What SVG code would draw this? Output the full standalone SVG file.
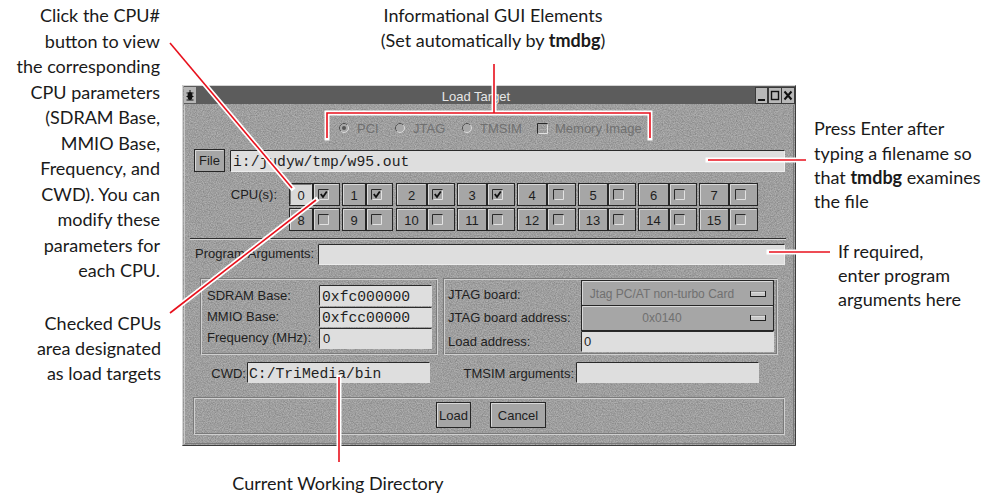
<svg xmlns="http://www.w3.org/2000/svg" width="1004" height="495" viewBox="0 0 1004 495">
<style>
.ann{font-family:Lato,"Liberation Sans",sans-serif;font-size:18px;fill:#1a1a1a}
.b{font-weight:bold}
.ui{font-family:"Liberation Sans",Arial,sans-serif;font-size:13px;fill:#1e1e1e}
.dim{fill:#707070}
.mono{font-family:"Liberation Mono","Courier New",monospace;font-size:14.7px;fill:#1e1e1e}
.cell{fill:#a6a6a6;stroke:#262626}
.hl{fill:none;stroke:#d9d9d9}
.sh{fill:none;stroke:#2a2a2a}
.lt{fill:none;stroke:#ececec}
.field{fill:#dedede}
.etchD{fill:none;stroke:#7a7a7a}
.etchL{fill:none;stroke:#d0d0d0}
.halo{fill:none;stroke:#fff;stroke-width:5;stroke-linecap:square}
.red{fill:none;stroke:#e8101c;stroke-width:1.6}
.c{text-anchor:middle}
.e{text-anchor:end}
</style>
<defs>
<filter id="grain" x="0" y="0" width="1" height="1">
<feTurbulence type="fractalNoise" baseFrequency="0.85" numOctaves="2" seed="7"/>
<feColorMatrix type="matrix" values="0 0 0 0 0  0 0 0 0 0  0 0 0 0 0  0.4 0 0 0 -0.1"/>
</filter>
<g id="box"><path d="M0.5,10.5 V0.5 H10.5" stroke="#2a2a2a" fill="none"/><path d="M1.5,10.5 H10.5 V1.5" stroke="#e2e2e2" fill="none"/></g>
<g id="boxc"><use href="#box"/><path d="M2.8,5 L5,8 L8.8,2.6" stroke="#111" stroke-width="1.8" fill="none"/></g>
</defs>

<g id="window">
<rect x="182" y="85" width="614" height="361" fill="#b0b0b0"/>
<rect x="182" y="85" width="614" height="361" fill="#000" filter="url(#grain)"/>
<path d="M182.5,445.5 V85.5 H795.5" stroke="#d4d4d4" fill="none"/>
<path d="M182.5,445.5 H795.5 V85.5" stroke="#3c3c3c" fill="none"/>
<path d="M184.5,444 V105" stroke="#c8c8c8" fill="none"/>
<path d="M793.5,105 V443.5 H185" stroke="#7a7a7a" fill="none"/>
</g>

<g id="title-bar">
<rect x="184" y="86" width="611" height="18" fill="#5c5c5c"/>
<rect x="184" y="87" width="12" height="16" fill="#b6b6b6"/>
<ellipse cx="190" cy="96" rx="2.5" ry="4" fill="#111"/>
<path d="M186.5,93 H193.5 M186.5,96.5 H193.5 M186.5,100 H193.5 M190,90 V92" stroke="#111" stroke-width="1"/>
<text x="476" y="101" class="ui c" style="fill:#e6e6e6">Load Target</text>
<rect x="755.5" y="87.5" width="12" height="16" fill="#b8b8b8" stroke="#3a3a3a"/>
<path d="M758,100 H765" stroke="#111" stroke-width="2"/>
<rect x="768.5" y="87.5" width="13" height="16" fill="#b8b8b8" stroke="#3a3a3a"/>
<rect x="771.5" y="91.5" width="7" height="8" fill="none" stroke="#111" stroke-width="1.4"/>
<rect x="781.5" y="87.5" width="13" height="16" fill="#b8b8b8" stroke="#3a3a3a"/>
<path d="M784.5,91.5 L791.5,99.5 M791.5,91.5 L784.5,99.5" stroke="#111" stroke-width="2"/>
</g>

<g id="radio-row">
<circle cx="344" cy="128" r="4.5" fill="#a8a8a8" stroke="#dcdcdc"/>
<path d="M340.8,131.2 A4.5,4.5 0 0 1 347.2,124.8" stroke="#4a4a4a" fill="none"/>
<circle cx="344" cy="128" r="2" fill="#555"/>
<text x="357" y="133" class="ui dim">PCI</text>
<circle cx="400" cy="128" r="4.5" fill="#a8a8a8" stroke="#dcdcdc"/>
<path d="M396.8,131.2 A4.5,4.5 0 0 1 403.2,124.8" stroke="#4a4a4a" fill="none"/>
<text x="413" y="133" class="ui dim">JTAG</text>
<circle cx="467" cy="128" r="4.5" fill="#a8a8a8" stroke="#dcdcdc"/>
<path d="M463.8,131.2 A4.5,4.5 0 0 1 470.2,124.8" stroke="#4a4a4a" fill="none"/>
<text x="480" y="133" class="ui dim">TMSIM</text>
<use href="#box" x="537" y="123"/>
<text x="555" y="133" class="ui dim">Memory Image</text>
</g>

<g id="file-row">
<rect x="194.5" y="149.5" width="30" height="22" class="cell"/>
<path d="M195.5,170.5 V150.5 H223.5" class="hl"/>
<text x="209.5" y="165" class="ui c">File</text>
<rect x="230" y="150" width="555" height="22" class="field"/>
<path d="M230.5,171.5 V150.5 H784.5" class="sh"/>
<path d="M231,171.5 H784.5 V151" class="lt"/>
<text x="233" y="166" class="mono">i:/judyw/tmp/w95.out</text>
</g>

<g id="cpu-grid">
<text x="277" y="199" class="ui e">CPU(s):</text>
<rect x="289.5" y="183.5" width="23" height="22" fill="#d9d9d9" stroke="#262626"/>
<path d="M290.5,204.5 V184.5 H311.5" stroke="#7a7a7a" fill="none"/>
<text x="301" y="200" class="ui c">0</text>
<rect x="313.5" y="183.5" width="26" height="22" class="cell"/><path d="M314.5,204.5 V184.5 H338.5" class="hl"/><use href="#boxc" x="318" y="189"/>
<rect x="342.5" y="183.5" width="23" height="22" class="cell"/><path d="M343.5,204.5 V184.5 H364.5" class="hl"/><text x="354" y="200" class="ui c">1</text>
<rect x="366.5" y="183.5" width="26" height="22" class="cell"/><path d="M367.5,204.5 V184.5 H391.5" class="hl"/><use href="#boxc" x="371" y="189"/>
<rect x="396.5" y="183.5" width="30" height="22" class="cell"/><path d="M397.5,204.5 V184.5 H425.5" class="hl"/><text x="411.5" y="200" class="ui c">2</text>
<rect x="427.5" y="183.5" width="27" height="22" class="cell"/><path d="M428.5,204.5 V184.5 H453.5" class="hl"/><use href="#boxc" x="432" y="189"/>
<rect x="457.5" y="183.5" width="29" height="22" class="cell"/><path d="M458.5,204.5 V184.5 H485.5" class="hl"/><text x="472" y="200" class="ui c">3</text>
<rect x="487.5" y="183.5" width="27" height="22" class="cell"/><path d="M488.5,204.5 V184.5 H513.5" class="hl"/><use href="#boxc" x="492" y="189"/>
<rect x="517.5" y="183.5" width="29" height="22" class="cell"/><path d="M518.5,204.5 V184.5 H545.5" class="hl"/><text x="532" y="200" class="ui c">4</text>
<rect x="547.5" y="183.5" width="28" height="22" class="cell"/><path d="M548.5,204.5 V184.5 H574.5" class="hl"/><use href="#box" x="553" y="189"/>
<rect x="578.5" y="183.5" width="29" height="22" class="cell"/><path d="M579.5,204.5 V184.5 H606.5" class="hl"/><text x="593" y="200" class="ui c">5</text>
<rect x="608.5" y="183.5" width="27" height="22" class="cell"/><path d="M609.5,204.5 V184.5 H634.5" class="hl"/><use href="#box" x="613" y="189"/>
<rect x="638.5" y="183.5" width="30" height="22" class="cell"/><path d="M639.5,204.5 V184.5 H667.5" class="hl"/><text x="653.5" y="200" class="ui c">6</text>
<rect x="669.5" y="183.5" width="27" height="22" class="cell"/><path d="M670.5,204.5 V184.5 H695.5" class="hl"/><use href="#box" x="674" y="189"/>
<rect x="699.5" y="183.5" width="29" height="22" class="cell"/><path d="M700.5,204.5 V184.5 H727.5" class="hl"/><text x="714" y="200" class="ui c">7</text>
<rect x="729.5" y="183.5" width="28" height="22" class="cell"/><path d="M730.5,204.5 V184.5 H756.5" class="hl"/><use href="#box" x="735" y="189"/>
<rect x="289.5" y="208.5" width="23" height="22" class="cell"/><path d="M290.5,229.5 V209.5 H311.5" class="hl"/><text x="301" y="225" class="ui c">8</text>
<rect x="313.5" y="208.5" width="26" height="22" class="cell"/><path d="M314.5,229.5 V209.5 H338.5" class="hl"/><use href="#box" x="318" y="214"/>
<rect x="342.5" y="208.5" width="23" height="22" class="cell"/><path d="M343.5,229.5 V209.5 H364.5" class="hl"/><text x="354" y="225" class="ui c">9</text>
<rect x="366.5" y="208.5" width="26" height="22" class="cell"/><path d="M367.5,229.5 V209.5 H391.5" class="hl"/><use href="#box" x="371" y="214"/>
<rect x="396.5" y="208.5" width="30" height="22" class="cell"/><path d="M397.5,229.5 V209.5 H425.5" class="hl"/><text x="411.5" y="225" class="ui c">10</text>
<rect x="427.5" y="208.5" width="27" height="22" class="cell"/><path d="M428.5,229.5 V209.5 H453.5" class="hl"/><use href="#box" x="432" y="214"/>
<rect x="457.5" y="208.5" width="29" height="22" class="cell"/><path d="M458.5,229.5 V209.5 H485.5" class="hl"/><text x="472" y="225" class="ui c">11</text>
<rect x="487.5" y="208.5" width="27" height="22" class="cell"/><path d="M488.5,229.5 V209.5 H513.5" class="hl"/><use href="#box" x="492" y="214"/>
<rect x="517.5" y="208.5" width="29" height="22" class="cell"/><path d="M518.5,229.5 V209.5 H545.5" class="hl"/><text x="532" y="225" class="ui c">12</text>
<rect x="547.5" y="208.5" width="28" height="22" class="cell"/><path d="M548.5,229.5 V209.5 H574.5" class="hl"/><use href="#box" x="553" y="214"/>
<rect x="578.5" y="208.5" width="29" height="22" class="cell"/><path d="M579.5,229.5 V209.5 H606.5" class="hl"/><text x="593" y="225" class="ui c">13</text>
<rect x="608.5" y="208.5" width="27" height="22" class="cell"/><path d="M609.5,229.5 V209.5 H634.5" class="hl"/><use href="#box" x="613" y="214"/>
<rect x="638.5" y="208.5" width="30" height="22" class="cell"/><path d="M639.5,229.5 V209.5 H667.5" class="hl"/><text x="653.5" y="225" class="ui c">14</text>
<rect x="669.5" y="208.5" width="27" height="22" class="cell"/><path d="M670.5,229.5 V209.5 H695.5" class="hl"/><use href="#box" x="674" y="214"/>
<rect x="699.5" y="208.5" width="29" height="22" class="cell"/><path d="M700.5,229.5 V209.5 H727.5" class="hl"/><text x="714" y="225" class="ui c">15</text>
<rect x="729.5" y="208.5" width="28" height="22" class="cell"/><path d="M730.5,229.5 V209.5 H756.5" class="hl"/><use href="#box" x="735" y="214"/>
</g>

<g id="separator">
<path d="M190,238.5 H786" stroke="#2e2e2e"/>
<path d="M190,239.5 H786" stroke="#d4d4d4"/>
</g>

<g id="program-args">
<text x="195" y="258" class="ui">Program Arguments:</text>
<rect x="318" y="244" width="467" height="21" class="field"/>
<path d="M318.5,264.5 V244.5 H784.5" class="sh"/>
<path d="M319,264.5 H784.5 V245" class="lt"/>
</g>

<g id="cpu-params">
<rect x="200.5" y="278.5" width="236" height="75" class="etchD"/>
<rect x="201.5" y="279.5" width="236" height="75" class="etchL"/>
<text x="207" y="300" class="ui">SDRAM Base:</text>
<text x="207" y="321" class="ui">MMIO Base:</text>
<text x="207" y="342" class="ui">Frequency (MHz):</text>
<rect x="319" y="285" width="113" height="21" class="field"/>
<path d="M319.5,305.5 V285.5 H431.5" class="sh"/>
<text x="322" y="301" class="mono">0xfc000000</text>
<rect x="319" y="307" width="113" height="20" class="field"/>
<path d="M319.5,326.5 V307.5 H431.5" class="sh"/>
<text x="322" y="322" class="mono">0xfcc00000</text>
<rect x="319" y="328" width="113" height="21" class="field"/>
<path d="M319.5,348.5 V328.5 H431.5" class="sh"/>
<text x="323" y="343" class="ui">0</text>
</g>

<g id="jtag-params">
<rect x="443.5" y="278.5" width="333" height="75" class="etchD"/>
<rect x="444.5" y="279.5" width="333" height="75" class="etchL"/>
<text x="448" y="299" class="ui">JTAG board:</text>
<text x="448" y="322" class="ui">JTAG board address:</text>
<text x="448" y="346" class="ui">Load address:</text>
<rect x="581.5" y="280.5" width="192" height="25" class="cell"/>
<path d="M582.5,304.5 V281.5 H772.5" class="hl"/>
<text x="662" y="298" class="ui c dim" style="font-size:12px">Jtag PC/AT non-turbo Card</text>
<rect x="750.5" y="291.5" width="15" height="5" fill="#c8c8c8" stroke="#222"/>
<path d="M751,292 H765" stroke="#f2f2f2"/>
<rect x="581.5" y="305.5" width="192" height="25" class="cell"/>
<path d="M582.5,329.5 V306.5 H772.5" class="hl"/>
<text x="662" y="322" class="ui c dim" style="font-size:12px">0x0140</text>
<rect x="750.5" y="315.5" width="15" height="5" fill="#c8c8c8" stroke="#222"/>
<path d="M751,316 H765" stroke="#f2f2f2"/>
<rect x="581" y="331" width="193" height="21" class="field"/>
<path d="M581.5,351.5 V331.5 H773.5" class="sh"/>
<text x="584" y="346" class="ui">0</text>
</g>

<g id="cwd-row">
<text x="246" y="378" class="ui e">CWD:</text>
<rect x="247" y="362" width="183" height="21" class="field"/>
<path d="M247.5,382.5 V362.5 H429.5" class="sh"/>
<text x="249" y="378" class="mono">C:/TriMedia/bin</text>
<text x="574" y="378" class="ui e">TMSIM arguments:</text>
<rect x="576" y="362" width="183" height="21" class="field"/>
<path d="M576.5,382.5 V362.5 H758.5" class="sh"/>
</g>

<g id="button-bar">
<rect x="193.5" y="397.5" width="590" height="36" class="etchD"/>
<rect x="194.5" y="398.5" width="590" height="36" class="etchL"/>
<rect x="436.5" y="402.5" width="34" height="25" class="cell"/>
<path d="M437.5,426.5 V403.5 H469.5" class="hl"/>
<text x="453.5" y="420" class="ui c">Load</text>
<rect x="490.5" y="402.5" width="55" height="25" class="cell"/>
<path d="M491.5,426.5 V403.5 H544.5" class="hl"/>
<text x="518" y="420" class="ui c">Cancel</text>
</g>

<g id="connectors">
<path d="M170,43 L292,188" class="halo"/>
<path d="M170,313 L316,200" class="halo"/>
<path d="M494,64 V113 M327,138 V113 H650 V138" class="halo"/>
<path d="M708,160 H806" class="halo"/>
<path d="M769,252 H830" class="halo"/>
<path d="M339,377 V462" class="halo"/>
<path d="M170,43 L292,188" class="red"/>
<path d="M170,313 L316,200" class="red"/>
<path d="M494,64 V113 M327,138 V113 H650 V138" class="red"/>
<path d="M708,160 H806" class="red"/>
<path d="M769,252 H830" class="red"/>
<path d="M339,377 V462" class="red"/>
</g>

<g id="note-cpu-button">
<text class="ann e" x="160" y="22">Click the CPU#</text>
<text class="ann e" x="160" y="47.5">button to view</text>
<text class="ann e" x="160" y="73">the corresponding</text>
<text class="ann e" x="160" y="98.5">CPU parameters</text>
<text class="ann e" x="160" y="124">(SDRAM Base,</text>
<text class="ann e" x="160" y="149.5">MMIO Base,</text>
<text class="ann e" x="160" y="175">Frequency, and</text>
<text class="ann e" x="160" y="200.5">CWD). You can</text>
<text class="ann e" x="160" y="226">modify these</text>
<text class="ann e" x="160" y="251.5">parameters for</text>
<text class="ann e" x="160" y="277">each CPU.</text>
</g>
<g id="note-checked">
<text class="ann e" x="161" y="330">Checked CPUs</text>
<text class="ann e" x="161" y="355">area designated</text>
<text class="ann e" x="161" y="380">as load targets</text>
</g>
<g id="note-info">
<text class="ann c" x="493" y="22">Informational GUI Elements</text>
<text class="ann c" x="493" y="47">(Set automatically by <tspan class="b">tmdbg</tspan>)</text>
</g>
<g id="note-enter">
<text class="ann" x="814" y="135">Press Enter after</text>
<text class="ann" x="814" y="160">typing a filename so</text>
<text class="ann" x="814" y="184">that <tspan class="b">tmdbg</tspan> examines</text>
<text class="ann" x="814" y="208">the file</text>
</g>
<g id="note-args">
<text class="ann" x="838" y="258">If required,</text>
<text class="ann" x="838" y="282">enter program</text>
<text class="ann" x="838" y="306">arguments here</text>
</g>
<g id="note-cwd">
<text class="ann c" x="338" y="490">Current Working Directory</text>
</g>
</svg>
